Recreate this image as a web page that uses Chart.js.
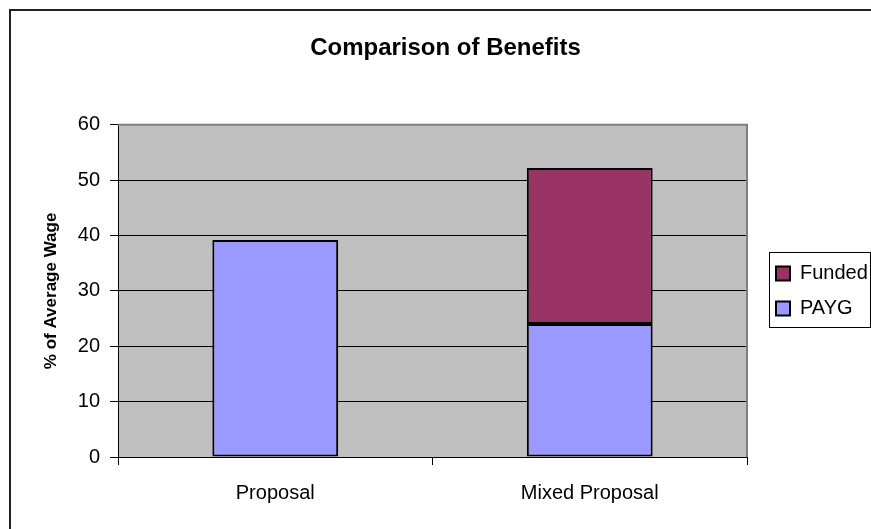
<!DOCTYPE html>
<html>
<head>
<meta charset="utf-8">
<script src="https://cdn.jsdelivr.net/npm/chart.js@4.4.1/dist/chart.umd.min.js"></script>
<style>
  html, body { margin: 0; padding: 0; background: #fff; }
  #wrap { width: 871px; height: 529px; }
</style>
</head>
<body>
<div id="wrap"><canvas id="myChart"></canvas></div>
<script>
const categories = ['Proposal', 'Mixed Proposal'];
const paygValues = [39.2, 24.0];
const fundedValues = [0, 28.2];
const yTicks = [0, 10, 20, 30, 40, 50, 60];

Chart.defaults.font.family = "'Liberation Sans', Arial, sans-serif";
Chart.defaults.color = '#000';

// grey plot area with a darker frame on top and right
const plotBox = {
  id: 'plotBox',
  beforeDraw(chart) {
    const { ctx, chartArea: a } = chart;
    ctx.save();
    ctx.fillStyle = '#c0c0c0';
    ctx.fillRect(a.left, a.top, a.right - a.left, a.bottom - a.top);
    ctx.restore();
  },
  beforeDatasetsDraw(chart) {
    const { ctx, chartArea: a } = chart;
    ctx.save();
    ctx.strokeStyle = '#808080';
    ctx.lineWidth = 2;
    ctx.beginPath();
    ctx.moveTo(a.left, a.top);
    ctx.lineTo(a.right, a.top);
    ctx.lineTo(a.right, a.bottom);
    ctx.stroke();
    ctx.restore();
  },
  afterDraw(chart) {
    const { ctx } = chart;
    ctx.save();
    // outer chart frame (only left and top show)
    ctx.strokeStyle = '#222';
    ctx.lineWidth = 2;
    ctx.beginPath();
    ctx.moveTo(10, chart.height);
    ctx.lineTo(10, 10);
    ctx.lineTo(chart.width, 10);
    ctx.stroke();
    // box around the legend
    const hb = chart.legend.legendHitBoxes;
    if (hb && hb.length) {
      const top = hb[0].top - 11;
      const bottom = hb[hb.length - 1].top + hb[hb.length - 1].height + 9;
      ctx.strokeStyle = '#000';
      ctx.lineWidth = 1;
      ctx.strokeRect(769.5, Math.round(top) + 0.5, chart.width - 770, Math.round(bottom - top));
    }
    ctx.restore();
  }
};

new Chart(document.getElementById('myChart'), {
  type: 'bar',
  data: {
    labels: categories,
    datasets: [
      {
        label: 'PAYG',
        data: paygValues,
        backgroundColor: '#9999ff',
        borderColor: '#000',
        borderWidth: 2,
        borderSkipped: false
      },
      {
        label: 'Funded',
        data: fundedValues,
        backgroundColor: '#993366',
        borderColor: '#000',
        borderWidth: 2,
        borderSkipped: false
      }
    ]
  },
  options: {
    responsive: true,
    maintainAspectRatio: false,
    animation: false,
    datasets: { bar: { categoryPercentage: 1, barPercentage: 0.4 } },
    layout: { padding: { left: 20, right: 0, top: 0, bottom: 0 } },
    plugins: {
      title: {
        display: true,
        text: 'Comparison of Benefits',
        font: { size: 24, weight: 'bold' },
        color: '#000',
        padding: { top: 34, bottom: 62 }
      },
      legend: {
        position: 'right',
        fullSize: false,
        reverse: true,
        maxWidth: 110,
        labels: {
          boxWidth: 14,
          boxHeight: 14,
          padding: 15,
          font: { size: 20 },
          color: '#000'
        }
      },
      tooltip: { enabled: false }
    },
    scales: {
      x: {
        stacked: true,
        grid: {
          offset: true,
          drawOnChartArea: false,
          drawTicks: true,
          tickLength: 8,
          color: '#000',
          tickColor: '#000'
        },
        border: { color: '#000', width: 1 },
        ticks: { font: { size: 20 }, padding: 16, color: '#000' },
        afterFit(scale) { scale.height = 72; }
      },
      y: {
        stacked: true,
        min: yTicks[0],
        max: yTicks[yTicks.length - 1],
        afterBuildTicks(scale) { scale.ticks = yTicks.map(v => ({ value: v })); },
        grid: { color: '#000', tickColor: '#000', tickLength: 8, lineWidth: 1 },
        border: { color: '#000', width: 1 },
        ticks: { font: { size: 20 }, padding: 10, color: '#000' },
        title: {
          display: true,
          text: '% of Average Wage',
          font: { size: 17, weight: 'bold' },
          color: '#000',
          padding: { top: 21, bottom: 0 }
        },
        afterFit(scale) { scale.width = 98; }
      },
      // empty strip between the plot and the legend
      gap: {
        position: 'right',
        display: true,
        grid: { display: false },
        border: { display: false },
        ticks: { display: false },
        afterFit(scale) { scale.width = 14; }
      }
    }
  },
  plugins: [plotBox]
});
</script>
</body>
</html>
